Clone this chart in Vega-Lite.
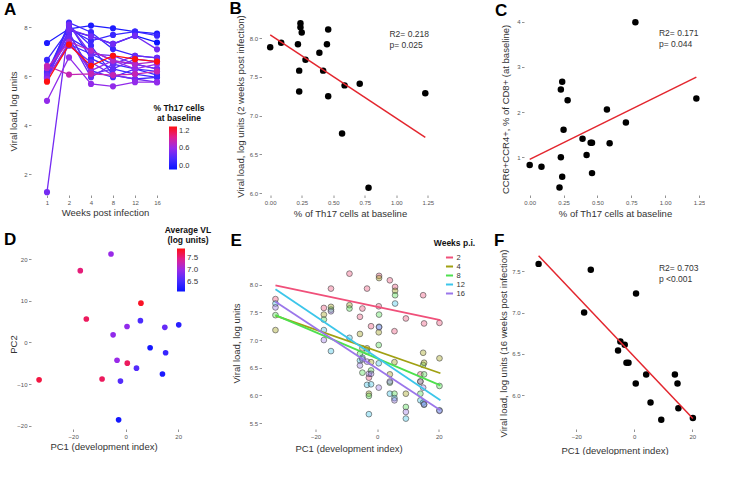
{
 "$schema": "https://vega.github.io/schema/vega-lite/v6.json",
 "background": "white",
 "padding": {"left": 4, "top": 0, "right": 0, "bottom": 0},
 "autosize": {"type": "pad"},
 "config": {
  "view": {"stroke": null},
  "font": "Liberation Sans",
  "axis": {"domain": false, "grid": false, "tickSize": 2.5, "tickColor": "#777", "tickWidth": 0.8, "labelFont": "Liberation Sans", "labelFontSize": 6, "labelColor": "#555", "labelPadding": 1.5, "labelFlush": false, "labelOverlap": false, "titleFont": "Liberation Sans", "titleFontSize": 9.5, "titleFontWeight": "normal", "titleColor": "#333", "titleBaseline": "middle"},
  "legend": {"titleFont": "Liberation Sans", "titleFontSize": 8.5, "titleFontWeight": "bold", "titleColor": "#111", "labelFont": "Liberation Sans", "labelFontSize": 7.5, "labelColor": "#333", "padding": 0, "titleAnchor": "middle", "titlePadding": 4, "titleLineHeight": 10, "gradientThickness": 8, "gradientLength": 43, "gradientStrokeWidth": 0, "labelOffset": 2, "labelOverlap": false},
  "title": {"font": "Liberation Sans", "fontSize": 17, "fontWeight": "bold", "color": "#000", "anchor": "start", "frame": "group"}
 },
 "datasets": {
  "subj": [
   {"id": "a", "th17": 0.00, "ccr6": 0.83, "w01": 6.05, "w02": 7.88, "w04": 7.63, "w08": 7.32, "w12": 7.66, "w16": 7.38},
   {"id": "b", "th17": 0.087, "ccr6": 0.79, "w01": 7.36, "w02": 7.94, "w04": 8.07, "w08": 7.96, "w12": 7.82, "w16": 7.74},
   {"id": "c", "th17": 0.22, "ccr6": 0.33, "w01": 6.67, "w02": 7.92, "w04": 7.45, "w08": 7.69, "w12": 7.82, "w16": 7.66},
   {"id": "d", "th17": 0.23, "ccr6": 1.00, "w01": 5.95, "w02": 7.31, "w04": 6.91, "w08": 6.50, "w12": 6.30, "w16": 6.05},
   {"id": "e", "th17": 0.23, "ccr6": 2.50, "w01": 6.10, "w02": 7.58, "w04": 7.05, "w08": 6.64, "w12": 6.50, "w16": 6.30},
   {"id": "f", "th17": 0.24, "ccr6": 2.67, "w01": 6.00, "w02": 8.19, "w04": 7.80, "w08": 7.11, "w12": 6.84, "w16": 6.75},
   {"id": "g", "th17": 0.24, "ccr6": 0.57, "w01": 5.90, "w02": 8.14, "w04": 6.73, "w08": 6.30, "w12": 6.09, "w16": 5.96},
   {"id": "h", "th17": 0.25, "ccr6": 1.61, "w01": 6.15, "w02": 8.07, "w04": 7.25, "w08": 6.05, "w12": 5.89, "w16": 5.96},
   {"id": "i", "th17": 0.28, "ccr6": 2.26, "w01": 6.20, "w02": 7.72, "w04": 6.23, "w08": 5.96, "w12": 6.30, "w16": 6.20},
   {"id": "j", "th17": 0.39, "ccr6": 1.41, "w01": 5.90, "w02": 7.81, "w04": 6.09, "w08": 6.30, "w12": 6.70, "w16": 6.60},
   {"id": "k", "th17": 0.42, "ccr6": 1.05, "w01": 6.05, "w02": 7.58, "w04": 5.96, "w08": 6.50, "w12": 6.84, "w16": 6.75},
   {"id": "l", "th17": 0.45, "ccr6": 1.32, "w01": 6.00, "w02": 7.92, "w04": 7.63, "w08": 7.32, "w12": 7.66, "w16": 7.10},
   {"id": "m", "th17": 0.46, "ccr6": 1.32, "w01": 1.27, "w02": 8.11, "w04": 6.91, "w08": 6.84, "w12": 6.50, "w16": 6.30},
   {"id": "n", "th17": 0.46, "ccr6": 0.65, "w01": 5.95, "w02": 7.25, "w04": 6.57, "w08": 6.05, "w12": 5.89, "w16": 5.76},
   {"id": "o", "th17": 0.57, "ccr6": 2.06, "w01": 5.00, "w02": 6.77, "w04": 5.69, "w08": 5.59, "w12": 5.76, "w16": 5.76},
   {"id": "p", "th17": 0.59, "ccr6": 1.31, "w01": 5.89, "w02": 7.39, "w04": 6.23, "w08": 6.64, "w12": 6.30, "w16": 6.50},
   {"id": "q", "th17": 0.71, "ccr6": 1.77, "w01": 6.33, "w02": 7.41, "w04": 7.05, "w08": 6.64, "w12": 6.50, "w16": 6.60},
   {"id": "r", "th17": 0.78, "ccr6": 3.99, "w01": 6.43, "w02": 6.07, "w04": 6.10, "w08": 6.05, "w12": 6.09, "w16": 6.20},
   {"id": "s", "th17": 1.23, "ccr6": 2.30, "w01": 5.78, "w02": 7.29, "w04": 6.43, "w08": 6.84, "w12": 6.70, "w16": 6.60}
  ],
  "pcs": [
   {"pc1": -33.0, "pc2": -9.0, "avg": 7.75, "w02": 7.74, "w04": 7.18, "w08": 7.45, "w12": 7.66, "w16": 7.59},
   {"pc1": -17.3, "pc2": 17.2, "avg": 7.55, "w02": 7.58, "w04": 7.46, "w08": 7.37, "w12": 7.18, "w16": 7.00},
   {"pc1": -15.0, "pc2": 5.6, "avg": 7.65, "w02": 7.93, "w04": 7.60, "w08": 7.55, "w12": 6.80, "w16": 7.52},
   {"pc1": -9.0, "pc2": -8.8, "avg": 7.65, "w02": 8.20, "w04": 7.63, "w08": 7.57, "w12": 7.04, "w16": null},
   {"pc1": -5.6, "pc2": 21.2, "avg": 7.0, "w02": 7.42, "w04": 7.11, "w08": 6.75, "w12": 6.63, "w16": 6.54},
   {"pc1": -4.8, "pc2": 1.8, "avg": 6.95, "w02": 7.57, "w04": 6.85, "w08": 6.41, "w12": 6.68, "w16": 6.65},
   {"pc1": -3.3, "pc2": -4.3, "avg": 7.0, "w02": 7.93, "w04": 6.85, "w08": 6.79, "w12": 6.19, "w16": 6.61},
   {"pc1": -2.7, "pc2": -18.6, "avg": 6.15, "w02": 6.32, "w04": 6.03, "w08": 5.99, "w12": 5.66, "w16": 6.39},
   {"pc1": -2.0, "pc2": -9.3, "avg": 6.6, "w02": 7.25, "w04": 6.60, "w08": 6.45, "w12": 6.20, "w16": 6.39},
   {"pc1": 0.5, "pc2": 3.8, "avg": 6.95, "w02": 7.61, "w04": 7.14, "w08": 6.91, "w12": 6.58, "w16": 6.14},
   {"pc1": 0.6, "pc2": -5.0, "avg": 7.65, "w02": 8.16, "w04": 8.12, "w08": 7.46, "w12": 7.24, "w16": 7.23},
   {"pc1": 4.1, "pc2": -6.2, "avg": 6.6, "w02": 8.08, "w04": 6.38, "w08": 6.23, "w12": 6.03, "w16": 6.25},
   {"pc1": 5.6, "pc2": 5.2, "avg": 6.55, "w02": 7.16, "w04": 6.60, "w08": 6.03, "w12": 5.95, "w16": 5.91},
   {"pc1": 5.8, "pc2": 9.4, "avg": 7.85, "w02": 7.96, "w04": 7.89, "w08": 7.81, "w12": 7.66, "w16": null},
   {"pc1": 9.3, "pc2": -1.3, "avg": 6.15, "w02": 7.39, "w04": 6.03, "w08": 5.79, "w12": 5.58, "w16": 5.70},
   {"pc1": 14.0, "pc2": -7.6, "avg": 6.2, "w02": 6.38, "w04": 6.25, "w08": 6.03, "w12": 5.91, "w16": 6.25},
   {"pc1": 14.9, "pc2": 3.6, "avg": 6.7, "w02": 7.81, "w04": 6.77, "w08": 6.55, "w12": 5.87, "w16": 6.14},
   {"pc1": 15.2, "pc2": -2.5, "avg": 6.4, "w02": 7.30, "w04": 6.59, "w08": 6.38, "w12": 5.83, "w16": 5.84},
   {"pc1": 20.2, "pc2": 4.2, "avg": 6.3, "w02": 7.31, "w04": 6.67, "w08": 6.17, "w12": 5.73, "w16": 5.72}
  ],
  "efit": [
   {"week": "w02", "pc1": -33.0, "vl": 7.99}, {"week": "w02", "pc1": 20.5, "vl": 7.36},
   {"week": "w04", "pc1": -33.0, "vl": 7.44}, {"week": "w04", "pc1": 20.5, "vl": 6.40},
   {"week": "w08", "pc1": -33.0, "vl": 7.45}, {"week": "w08", "pc1": 20.5, "vl": 6.18},
   {"week": "w12", "pc1": -33.0, "vl": 7.92}, {"week": "w12", "pc1": 20.5, "vl": 5.91},
   {"week": "w16", "pc1": -33.0, "vl": 7.69}, {"week": "w16", "pc1": 20.5, "vl": 5.73}
  ]
 },
 "bounds": "flush",
 "align": "each",
 "columns": 3,
 "spacing": {"row": 49, "column": 74.5},
 "resolve": {"scale": {"color": "independent"}, "legend": {"color": "independent"}},
 "concat": [
  {
   "width": 142, "height": 185,
   "data": {"name": "subj"},
   "transform": [{"fold": ["w01", "w02", "w04", "w08", "w12", "w16"], "as": ["week", "vl"]}],
   "title": {"text": "A", "dx": -27, "offset": -9},
   "encoding": {
    "x": {"field": "week", "type": "ordinal", "scale": {"type": "point", "padding": 0.727, "domain": ["w01", "w02", "w04", "w08", "w12", "w16"]}, "axis": {"labelAngle": 0, "labelExpr": "'' + toNumber(slice(datum.label, 1))", "title": "Weeks post infection", "titleX": 74, "titleY": 17.5}},
    "y": {"field": "vl", "type": "quantitative", "scale": {"domain": [1.155, 8.706], "nice": false, "zero": false}, "axis": {"values": [2, 4, 6, 8], "title": "Viral load, log units", "titleX": -17.5, "titleY": 101}}
   },
   "resolve": {"scale": {"color": "independent"}, "legend": {"color": "independent"}},
   "layer": [
    {"mark": {"type": "line", "strokeWidth": 1.3}, "encoding": {"detail": {"field": "id", "type": "nominal"}, "color": {"field": "th17", "type": "quantitative", "scale": {"domain": [0, 0.3, 0.6, 0.9, 1.2], "range": ["#0a14ff", "#4a2cff", "#9a2ae8", "#e0208f", "#ff1010"], "interpolate": "rgb", "clamp": true}, "legend": null}}},
    {"mark": {"type": "circle", "size": 38, "opacity": 1}, "encoding": {"color": {"field": "th17", "type": "quantitative", "scale": {"domain": [0, 0.3, 0.6, 0.9, 1.2], "range": ["#0a14ff", "#4a2cff", "#9a2ae8", "#e0208f", "#ff1010"], "interpolate": "rgb", "clamp": true}, "legend": {"type": "gradient", "title": ["% Th17 cells", "at baseline"], "orient": "none", "legendX": 122, "legendY": 94, "values": [0, 0.6, 1.2], "format": ".1f", "direction": "vertical"}}}}
   ]
  },
  {
   "width": 174, "height": 185,
   "title": {"text": "B", "dx": -32, "offset": -8},
   "layer": [
    {"data": {"name": "subj"}, "mark": {"type": "circle", "size": 42, "color": "#000", "opacity": 1},
     "encoding": {
      "x": {"field": "th17", "type": "quantitative", "scale": {"domain": [-0.069, 1.311], "nice": false, "zero": false}, "axis": {"values": [0, 0.25, 0.5, 0.75, 1, 1.25], "format": ".2f", "title": "% of Th17 cells at baseline", "titleX": 88.5, "titleY": 18}},
      "y": {"field": "w02", "type": "quantitative", "scale": {"domain": [5.978, 8.361], "nice": false, "zero": false}, "axis": {"values": [6, 6.5, 7, 7.5, 8], "format": ".1f", "title": "Viral load, log units (2 weeks post infection)", "titleX": -21, "titleY": 96}}
     }},
    {"data": {"name": "subj"}, "transform": [{"regression": "w02", "on": "th17"}], "mark": {"type": "line", "color": "#e3262e", "strokeWidth": 1.5},
     "encoding": {
      "x": {"field": "th17", "type": "quantitative", "axis": {"values": [0, 0.25, 0.5, 0.75, 1, 1.25], "format": ".2f", "title": "% of Th17 cells at baseline", "titleX": 88.5, "titleY": 18}},
      "y": {"field": "w02", "type": "quantitative", "axis": {"values": [6, 6.5, 7, 7.5, 8], "format": ".1f", "title": "Viral load, log units (2 weeks post infection)", "titleX": -21, "titleY": 96}}
     }},
    {"data": {"values": [{}]}, "mark": {"type": "text", "align": "left", "baseline": "alphabetic", "fontSize": 8.5, "lineHeight": 11, "color": "#333"},
     "encoding": {
      "x": {"datum": 0.946, "type": "quantitative", "axis": {"values": [0, 0.25, 0.5, 0.75, 1, 1.25], "format": ".2f", "title": "% of Th17 cells at baseline", "titleX": 88.5, "titleY": 18}},
      "y": {"datum": 8.019, "type": "quantitative", "axis": {"values": [6, 6.5, 7, 7.5, 8], "format": ".1f", "title": "Viral load, log units (2 weeks post infection)", "titleX": -21, "titleY": 96}},
      "text": {"value": ["R2= 0.218", "p= 0.025"]}
     }}
   ]
  },
  {
   "width": 179, "height": 185,
   "title": {"text": "C", "dx": -29, "offset": -9.7},
   "layer": [
    {"data": {"name": "subj"}, "mark": {"type": "circle", "size": 42, "color": "#000", "opacity": 1},
     "encoding": {
      "x": {"field": "th17", "type": "quantitative", "scale": {"domain": [-0.042, 1.279], "nice": false, "zero": false}, "axis": {"values": [0, 0.25, 0.5, 0.75, 1, 1.25], "format": ".2f", "title": "% of Th17 cells at baseline", "titleX": 91, "titleY": 18.5}},
      "y": {"field": "ccr6", "type": "quantitative", "scale": {"domain": [0.166, 4.259], "nice": false, "zero": false}, "axis": {"values": [1, 2, 3, 4], "format": "d", "title": "CCR6+CCR4+, % of CD8+ (at baseline)", "titleX": -19, "titleY": 99}}
     }},
    {"data": {"name": "subj"}, "transform": [{"regression": "ccr6", "on": "th17"}], "mark": {"type": "line", "color": "#e3262e", "strokeWidth": 1.5},
     "encoding": {
      "x": {"field": "th17", "type": "quantitative", "axis": {"values": [0, 0.25, 0.5, 0.75, 1, 1.25], "format": ".2f", "title": "% of Th17 cells at baseline", "titleX": 91, "titleY": 18.5}},
      "y": {"field": "ccr6", "type": "quantitative", "axis": {"values": [1, 2, 3, 4], "format": "d", "title": "CCR6+CCR4+, % of CD8+ (at baseline)", "titleX": -19, "titleY": 99}}
     }},
    {"data": {"values": [{}]}, "mark": {"type": "text", "align": "left", "baseline": "alphabetic", "fontSize": 8.5, "lineHeight": 11, "color": "#333"},
     "encoding": {
      "x": {"datum": 0.954, "type": "quantitative", "axis": {"values": [0, 0.25, 0.5, 0.75, 1, 1.25], "format": ".2f", "title": "% of Th17 cells at baseline", "titleX": 91, "titleY": 18.5}},
      "y": {"datum": 3.673, "type": "quantitative", "axis": {"values": [1, 2, 3, 4], "format": "d", "title": "CCR6+CCR4+, % of CD8+ (at baseline)", "titleX": -19, "titleY": 99}},
      "text": {"value": ["R2= 0.171", "p= 0.044"]}
     }}
   ]
  },
  {
   "width": 156, "height": 185,
   "data": {"name": "pcs"},
   "title": {"text": "D", "dx": -27, "offset": -23.2},
   "mark": {"type": "circle", "size": 32, "opacity": 1},
   "encoding": {
    "x": {"field": "pc1", "type": "quantitative", "scale": {"domain": [-36.08, 23.35], "nice": false, "zero": false}, "axis": {"values": [-20, 0, 20], "title": "PC1 (development index)", "titleX": 72.5, "titleY": 17}},
    "y": {"field": "pc2", "type": "quantitative", "scale": {"domain": [-20.8, 23.6], "nice": false, "zero": false}, "axis": {"values": [-20, -10, 0, 10, 20], "title": "PC2", "titleX": -17.5, "titleY": 100}},
    "color": {"field": "avg", "type": "quantitative", "scale": {"domain": [6.08, 6.54, 7.005, 7.47, 7.93], "range": ["#0a14ff", "#4a2cff", "#9a2ae8", "#e0208f", "#ff1010"], "interpolate": "rgb", "clamp": true}, "legend": {"type": "gradient", "title": ["Average VL", "(log units)"], "orient": "none", "legendX": 134, "legendY": -18, "values": [6.5, 7, 7.5], "format": ".1f", "labelFontSize": 8, "direction": "vertical"}}
   }
  },
  {
   "width": 188, "height": 185,
   "title": {"text": "E", "dx": -31, "offset": -10.7},
   "encoding": {
    "x": {"field": "pc1", "type": "quantitative", "scale": {"domain": [-37.53, 23.45], "nice": false, "zero": false}, "axis": {"values": [-20, 0, 20], "title": "PC1 (development index)", "titleX": 87, "titleY": 19}},
    "y": {"field": "vl", "type": "quantitative", "scale": {"domain": [5.392, 8.736], "nice": false, "zero": false}, "axis": {"values": [5.5, 6, 6.5, 7, 7.5, 8], "format": ".1f", "title": "Viral load, log units", "titleX": -25, "titleY": 99}}
   },
   "resolve": {"scale": {"color": "independent"}, "legend": {"color": "independent"}},
   "layer": [
    {
     "data": {"name": "pcs"},
     "transform": [{"fold": ["w02", "w04", "w08", "w12", "w16"], "as": ["week", "vl"]}, {"filter": "isValid(datum.vl)"}],
     "mark": {"type": "circle", "size": 33, "opacity": 1, "fillOpacity": 0.38, "stroke": "#444", "strokeWidth": 0.6},
     "encoding": {"color": {"field": "week", "type": "nominal", "scale": {"domain": ["w02", "w04", "w08", "w12", "w16"], "range": ["#f0507a", "#a0a012", "#4ee04e", "#3cc6ea", "#9b76ea"]}, "legend": null}}
    },
    {
     "data": {"name": "efit"},
     "mark": {"type": "line", "strokeWidth": 1.8},
     "encoding": {"color": {"field": "week", "type": "nominal", "scale": {"domain": ["w02", "w04", "w08", "w12", "w16"], "range": ["#f0507a", "#a0a012", "#4ee04e", "#3cc6ea", "#9b76ea"]}, "legend": {"title": "Weeks p.i.", "orient": "none", "legendX": 172, "legendY": -5, "labelExpr": "'' + toNumber(slice(datum.label, 1))", "symbolType": "stroke", "symbolSize": 50, "symbolStrokeWidth": 2, "rowPadding": 0, "titlePadding": 5, "labelFontSize": 7.5}}}
    }
   ]
  },
  {
   "width": 177, "height": 185,
   "title": {"text": "F", "dx": -30, "offset": -6},
   "layer": [
    {"data": {"name": "pcs"}, "transform": [{"filter": "isValid(datum.w16)"}], "mark": {"type": "circle", "size": 42, "color": "#000", "opacity": 1},
     "encoding": {
      "x": {"field": "pc1", "type": "quantitative", "scale": {"domain": [-38.03, 23.0], "nice": false, "zero": false}, "axis": {"values": [-20, 0, 20], "title": "PC1 (development index)", "titleX": 90.5, "titleY": 21}},
      "y": {"field": "w16", "type": "quantitative", "scale": {"domain": [5.588, 7.831], "nice": false, "zero": false}, "axis": {"values": [6, 6.5, 7, 7.5], "format": ".1f", "title": "Viral load, log units (16 weeks post infection)", "titleX": -20.5, "titleY": 99}}
     }},
    {"data": {"name": "pcs"}, "transform": [{"filter": "isValid(datum.w16)"}, {"regression": "w16", "on": "pc1"}], "mark": {"type": "line", "color": "#e3262e", "strokeWidth": 1.5},
     "encoding": {
      "x": {"field": "pc1", "type": "quantitative", "axis": {"values": [-20, 0, 20], "title": "PC1 (development index)", "titleX": 90.5, "titleY": 21}},
      "y": {"field": "w16", "type": "quantitative", "axis": {"values": [6, 6.5, 7, 7.5], "format": ".1f", "title": "Viral load, log units (16 weeks post infection)", "titleX": -20.5, "titleY": 99}}
     }},
    {"data": {"values": [{}]}, "mark": {"type": "text", "align": "left", "baseline": "alphabetic", "fontSize": 8.5, "lineHeight": 11, "color": "#333"},
     "encoding": {
      "x": {"datum": 8.5, "type": "quantitative", "axis": {"values": [-20, 0, 20], "title": "PC1 (development index)", "titleX": 90.5, "titleY": 21}},
      "y": {"datum": 7.504, "type": "quantitative", "axis": {"values": [6, 6.5, 7, 7.5], "format": ".1f", "title": "Viral load, log units (16 weeks post infection)", "titleX": -20.5, "titleY": 99}},
      "text": {"value": ["R2= 0.703", "p <0.001"]}
     }}
   ]
  }
 ]
}
